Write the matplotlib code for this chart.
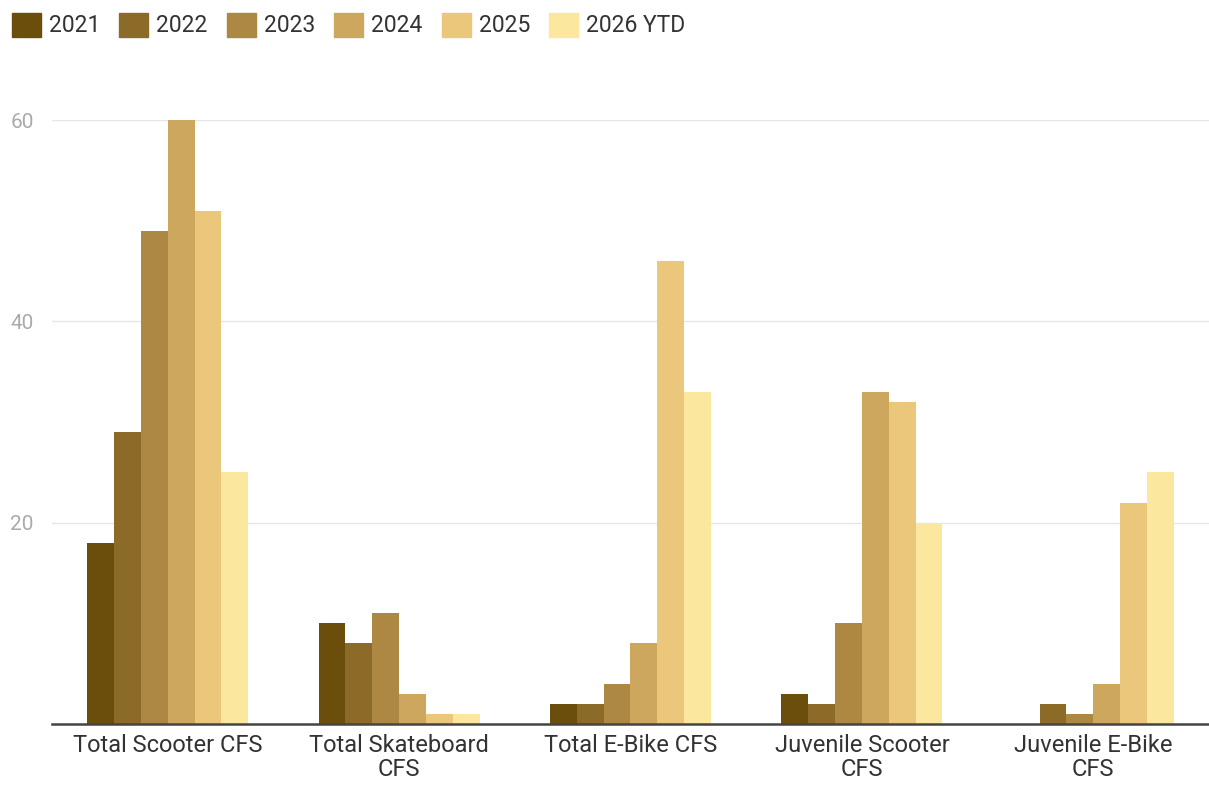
import numpy as np
import matplotlib
matplotlib.use("Agg")
import matplotlib.pyplot as plt
import matplotlib.patches as mpatches

plt.rcParams["font.family"] = ["Roboto", "DejaVu Sans"]

categories = ["Total Scooter CFS", "Total Skateboard\nCFS", "Total E-Bike CFS",
              "Juvenile Scooter\nCFS", "Juvenile E-Bike\nCFS"]
years = ["2021", "2022", "2023", "2024", "2025", "2026 YTD"]
colors = ["#6b4d0c", "#8c6b28", "#ac8842", "#cea75f", "#eac77b", "#fce79e"]

v2021 = [18, 10, 2, 3, 0]
v2022 = [29, 8, 2, 2, 2]
v2023 = [49, 11, 4, 10, 1]
v2024 = [60, 3, 8, 33, 4]
v2025 = [51, 1, 46, 32, 22]
v2026 = [25, 1, 33, 20, 25]
series = [v2021, v2022, v2023, v2024, v2025, v2026]

fig = plt.figure(figsize=(12.09, 7.88), dpi=100)
ax = fig.add_axes([0.043, 0.0812, 0.957, 0.7665])

x = np.arange(len(categories))
w = 0.116
for i, (vals, c) in enumerate(zip(series, colors)):
    ax.bar(x + (i - 2.5) * w, vals, w, color=c, linewidth=0, zorder=2)

ax.set_xlim(-0.5, 4.5)
ax.set_ylim(0, 60)
ax.set_yticks([20, 40, 60])
ax.tick_params(axis="y", length=0, labelsize=15, labelcolor="#aaaaaa", pad=30)
ax.set_xticks(x)
ax.set_xticklabels(categories, fontsize=17, color="#333333", linespacing=1.05)
ax.tick_params(axis="x", length=0, pad=7)
for lbl in ax.get_yticklabels():
    lbl.set_horizontalalignment("left")
ax.yaxis.grid(True, color="#e6e6e6", linewidth=1, zorder=0)
ax.set_axisbelow(True)
for s in ["top", "right", "left"]:
    ax.spines[s].set_visible(False)
ax.spines["bottom"].set_color("#444444")
ax.spines["bottom"].set_linewidth(1.8)
ax.spines["bottom"].set_zorder(3)

handles = [mpatches.Patch(color=c, label=y) for c, y in zip(colors, years)]
fig.legend(handles=handles, loc="upper left", bbox_to_anchor=(0.0099, 0.984), ncol=6,
           frameon=False, fontsize=16.5, handlelength=1.25, handleheight=1.25,
           handletextpad=0.35, columnspacing=0.85, borderpad=0, borderaxespad=0,
           labelcolor="#333333")

fig.savefig("out.png", dpi=100, facecolor="white")
